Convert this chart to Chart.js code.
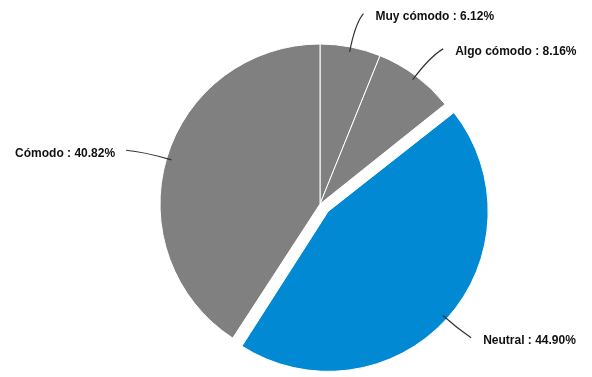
<!DOCTYPE html>
<html>
<head>
<meta charset="utf-8">
<script src="https://cdn.jsdelivr.net/npm/chart.js@4/dist/chart.umd.min.js"></script>
<style>
html,body{margin:0;padding:0;background:#fff;}
#wrap{width:592px;height:377px;}
</style>
</head>
<body>
<div id="wrap"><canvas id="c" width="592" height="377"></canvas></div>
<script>
const categories = ["Muy cómodo", "Algo cómodo", "Neutral", "Cómodo"];
const percentages = [6.12, 8.16, 44.90, 40.82];
const sliceColors = ["#808080", "#808080", "#0289d3", "#808080"];
const explode = [0, 0, 44, 0];

// keep exploded slice at the same radius (Chart.js v4 grows offset arcs)
const keepRadiusPlugin = {
  id: 'keepRadius',
  beforeDatasetsDraw(chart) {
    const meta = chart.getDatasetMeta(0);
    const baseR = meta.controller.outerRadius;
    meta.data.forEach((arc, i) => {
      const off = explode[i] / 4;
      const circ = arc.endAngle - arc.startAngle;
      const fix = 1 - Math.sin(Math.min(Math.PI, circ));
      arc.outerRadius = baseR - off * fix;
    });
  }
};

const leaderPlugin = {
  id: 'leaders',
  afterDatasetsDraw(chart) {
    const ctx = chart.ctx;
    const meta = chart.getDatasetMeta(0);
    const R = meta.controller.outerRadius;
    ctx.save();
    ctx.font = 'bold 12px "Liberation Sans", Arial, sans-serif';
    ctx.textBaseline = 'middle';
    meta.data.forEach((arc, i) => {
      const p = arc.getProps(['x','y','startAngle','endAngle'], true);
      const mid = (p.startAngle + p.endAngle) / 2;
      const off = explode[i] / 4;
      const cx = p.x + Math.cos(mid) * off;
      const cy = p.y + Math.sin(mid) * off;
      const sx = cx + Math.cos(mid) * (R - 5);
      const sy = cy + Math.sin(mid) * (R - 5);
      const kx = p.x + Math.cos(mid) * (R + 24);
      const ky = p.y + Math.sin(mid) * (R + 24);
      const right = Math.cos(mid) >= 0;
      const ex = p.x + Math.cos(mid) * (R + 36) + (right ? 6 : -6);
      const ey = p.y + Math.sin(mid) * (R + 36) + 2;
      ctx.strokeStyle = '#333';
      ctx.lineWidth = 1.2;
      ctx.beginPath();
      ctx.moveTo(sx, sy);
      ctx.quadraticCurveTo(kx, ky, ex, ey);
      ctx.stroke();
      ctx.fillStyle = '#111';
      ctx.textAlign = right ? 'left' : 'right';
      const label = categories[i] + ' : ' + percentages[i].toFixed(2) + '%';
      ctx.fillText(label, ex + (right ? 12 : -11), ey + 3);
    });
    ctx.restore();
  }
};

new Chart(document.getElementById('c'), {
  type: 'pie',
  data: {
    labels: categories,
    datasets: [{
      data: percentages,
      backgroundColor: sliceColors,
      borderColor: '#ffffff',
      borderWidth: 1,
      offset: explode,
      hoverOffset: 0
    }]
  },
  options: {
    responsive: false,
    animation: false,
    events: [],
    radius: 160,
    layout: { padding: { left: 48, right: 0, top: 31, bottom: 0 } },
    plugins: { legend: { display: false }, tooltip: { enabled: false } }
  },
  plugins: [keepRadiusPlugin, leaderPlugin]
});
</script>
</body>
</html>
